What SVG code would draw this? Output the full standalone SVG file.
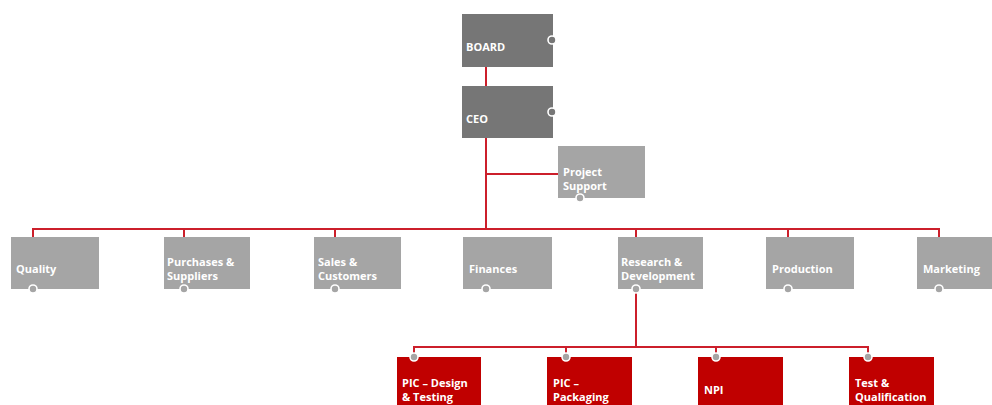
<svg xmlns="http://www.w3.org/2000/svg" width="992" height="405" viewBox="0 0 992 405">
<style>
.dk{fill:#767676}
.lt{fill:#a5a5a5}
.rd{fill:#c00000}
.t{font-family:"Open Sans","Noto Sans",sans-serif;font-weight:bold;font-size:11px;fill:#fff}
.c{fill:#a5a5a5;stroke:#fff;stroke-width:1.6}
.cd{fill:#767676;stroke:#fff;stroke-width:1.6}
.ln{fill:none;stroke:#cc1f2b;stroke-width:2}
</style>
<rect width="992" height="405" fill="#fff"/>
<g id="connectors">
<path class="ln" d="M486 67V86M486 138V229M486 174H558M33 237V229H939V237M184 229V237M335 229V237M636 229V237M788 229V237"/>
<path class="ln" d="M636 289V347M414 357V347H868V357M566 347V357M716 347V357"/>
</g>
<g id="board"><rect class="dk" x="462" y="14" width="91" height="53"/><circle class="cd" cx="552" cy="40" r="4"/><text class="t" x="466" y="51">BOARD</text></g>
<g id="ceo"><rect class="dk" x="462" y="86" width="91" height="52"/><circle class="cd" cx="552" cy="112" r="4"/><text class="t" x="466" y="123">CEO</text></g>
<g id="project-support"><rect class="lt" x="558" y="146" width="87" height="52"/><circle class="c" cx="580" cy="198" r="4"/><text class="t" x="563" y="176">Project</text><text class="t" x="563" y="190">Support</text></g>
<g id="quality"><rect class="lt" x="11" y="237" width="88" height="52"/><circle class="c" cx="33" cy="289" r="4"/><text class="t" x="16" y="273">Quality</text></g>
<g id="purchases"><rect class="lt" x="164" y="237" width="86" height="52"/><circle class="c" cx="184" cy="289" r="4"/><text class="t" x="167" y="266">Purchases &amp;</text><text class="t" x="167" y="280">Suppliers</text></g>
<g id="sales"><rect class="lt" x="314" y="237" width="87" height="52"/><circle class="c" cx="335" cy="289" r="4"/><text class="t" x="318" y="266">Sales &amp;</text><text class="t" x="318" y="280">Customers</text></g>
<g id="finances"><rect class="lt" x="463" y="237" width="89" height="52"/><circle class="c" cx="486" cy="289" r="4"/><text class="t" x="469" y="273">Finances</text></g>
<g id="rnd"><rect class="lt" x="618" y="237" width="85" height="52"/><circle class="c" cx="636" cy="289" r="4"/><text class="t" x="621" y="266">Research &amp;</text><text class="t" x="621" y="280">Development</text></g>
<g id="production"><rect class="lt" x="766" y="237" width="88" height="52"/><circle class="c" cx="788" cy="289" r="4"/><text class="t" x="772" y="273">Production</text></g>
<g id="marketing"><rect class="lt" x="917" y="237" width="75" height="52"/><circle class="c" cx="939" cy="289" r="4"/><text class="t" x="923" y="273">Marketing</text></g>
<g id="pic-design"><rect class="rd" x="397" y="357" width="84" height="52"/><circle class="c" cx="414" cy="357" r="4"/><text class="t" x="402" y="387">PIC – Design</text><text class="t" x="402" y="401">&amp; Testing</text></g>
<g id="pic-packaging"><rect class="rd" x="547" y="357" width="85" height="52"/><circle class="c" cx="566" cy="357" r="4"/><text class="t" x="553" y="387">PIC –</text><text class="t" x="553" y="401">Packaging</text></g>
<g id="npi"><rect class="rd" x="698" y="357" width="85" height="52"/><circle class="c" cx="716" cy="357" r="4"/><text class="t" x="704" y="394">NPI</text></g>
<g id="test"><rect class="rd" x="849" y="357" width="85" height="52"/><circle class="c" cx="868" cy="357" r="4"/><text class="t" x="855" y="387">Test &amp;</text><text class="t" x="855" y="401">Qualification</text></g>
</svg>
